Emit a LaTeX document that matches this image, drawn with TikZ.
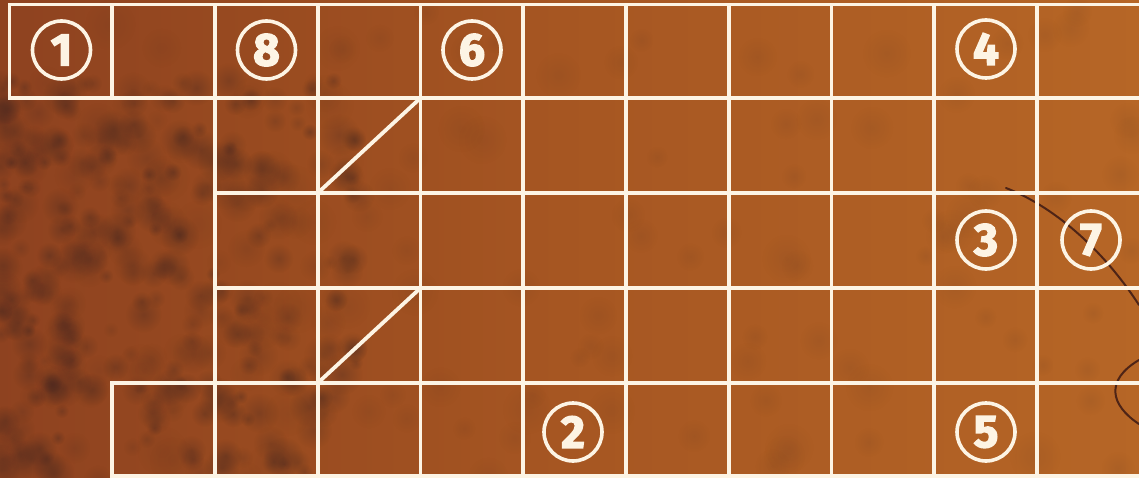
\documentclass[tikz,border=0pt]{standalone}
\usepackage{fontspec}
\setmainfont{Fira Sans}
\newfontfamily\numfont[BoldFeatures={FakeBold=3}]{Fira Sans}
\usetikzlibrary{fadings}
\tikzfading[name=softspot, inner color=transparent!0, outer color=transparent!100]
\definecolor{bgA}{RGB}{142,66,32}
\definecolor{bgB}{RGB}{152,74,32}
\definecolor{bgC}{RGB}{166,86,34}
\definecolor{bgD}{RGB}{182,102,38}
\definecolor{gridcol}{RGB}{253,244,228}
\definecolor{crack}{RGB}{78,36,22}
\definecolor{spot}{RGB}{60,35,30}
\tikzset{
  gridline/.style={draw=gridcol, line width=3.8pt, line cap=rect},
  numcirc/.style={circle, draw=gridcol, line width=3.6pt, minimum size=58pt, inner sep=0pt,
    text=gridcol, font=\numfont\fontsize{46}{46}\selectfont\bfseries},
  crackline/.style={draw=crack, line width=2pt, line cap=round}
}
\begin{document}
\begin{tikzpicture}[x=1pt,y=-1pt]
\useasboundingbox (0,0) rectangle (1139,478);
\shade[left color=bgA, right color=bgB] (-5,-5) rectangle (250,483);
\shade[left color=bgB, right color=bgC] (250,-5) rectangle (560,483);
\shade[left color=bgC, right color=bgD] (560,-5) rectangle (1144,483);
% mottled texture, strongest on the left
\pgfmathsetseed{11}
\foreach \i in {1,...,320}{
  \pgfmathsetmacro{\sx}{pow(rnd,1.5)*360}
  \pgfmathsetmacro{\sy}{80+rnd*400}
  \pgfmathsetmacro{\sr}{7+rnd*14}
  \pgfmathsetmacro{\so}{0.12+rnd*0.25}
  \fill[spot, opacity=\so, path fading=softspot] (\sx,\sy) circle (\sr);
}
\foreach \i in {1,...,120}{
  \pgfmathsetmacro{\sx}{rnd*1139}
  \pgfmathsetmacro{\sy}{rnd*478}
  \pgfmathsetmacro{\sr}{10+rnd*16}
  \fill[spot, opacity=0.08, path fading=softspot] (\sx,\sy) circle (\sr);
}
% cracks on the right
\path[crackline] (1006,188) .. controls (1050,205) and (1100,245) .. (1139,305);
\path[crackline] (1139,360) .. controls (1105,380) and (1110,405) .. (1139,424);
% grid coordinates
\coordinate (tl) at (9.5,4.5);
\coordinate (tr) at (1139,4.5);
\coordinate (r1l) at (9.5,98);
\coordinate (r1r) at (1139,98);
% horizontal lines
\draw[gridline] (tl) -- (tr);
\draw[gridline] (r1l) -- (r1r);
\foreach \y in {193,288} \draw[gridline] (215,\y) -- (1139,\y);
\draw[gridline] (112.3,383) -- (1139,383);
\draw[gridline] (112.3,476) -- (1139,476);
% vertical lines
\draw[gridline] (9.5,4.5) -- (9.5,98);
\draw[gridline] (112.3,4.5) -- (112.3,98);
\draw[gridline] (112.3,383) -- (112.3,476);
\foreach \x in {215,317.8,420.5,523.3,626,728.8,831.5,934.3,1037} \draw[gridline] (\x,4.5) -- (\x,476);
% diagonals
\coordinate (d1a) at (317.8,193);
\coordinate (d1b) at (420.5,98);
\coordinate (d2a) at (317.8,383);
\coordinate (d2b) at (420.5,288);
\draw[gridline, line cap=round] (d1a) -- (d1b);
\draw[gridline, line cap=round] (d2a) -- (d2b);
% numbered circles
\node[numcirc] (n1) at (61.5,50) {1};
\node[numcirc] (n8) at (266.5,50) {8};
\node[numcirc] (n6) at (472,50) {6};
\node[numcirc] (n4) at (986,49) {4};
\node[numcirc] (n3) at (986,240) {3};
\node[numcirc] (n7) at (1091,240) {7};
\node[numcirc] (n2) at (573,432) {2};
\node[numcirc] (n5) at (986,432) {5};
\end{tikzpicture}
\end{document}
